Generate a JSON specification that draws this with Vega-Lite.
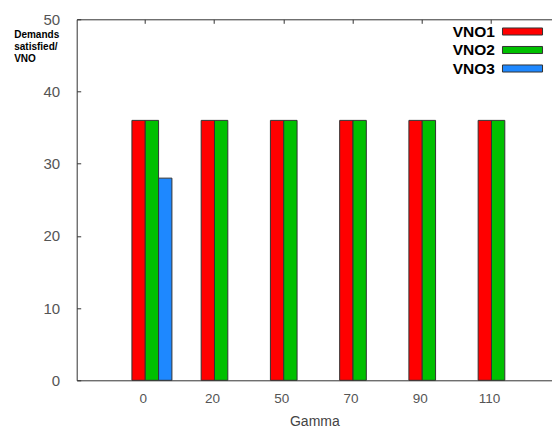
{
  "$schema": "https://vega.github.io/schema/vega-lite/v6.json",
  "autosize": "none",
  "width": 475.3,
  "height": 361,
  "padding": {"left": 76.7, "top": 19.3, "right": 0, "bottom": 50.7},
  "background": "white",
  "config": {
    "view": {"stroke": null},
    "font": "Liberation Sans"
  },
  "data": {
    "values": [
      {"gamma": "0", "vno": "VNO1", "demands": 36},
      {"gamma": "0", "vno": "VNO2", "demands": 36},
      {"gamma": "0", "vno": "VNO3", "demands": 28},
      {"gamma": "20", "vno": "VNO1", "demands": 36},
      {"gamma": "20", "vno": "VNO2", "demands": 36},
      {"gamma": "50", "vno": "VNO1", "demands": 36},
      {"gamma": "50", "vno": "VNO2", "demands": 36},
      {"gamma": "70", "vno": "VNO1", "demands": 36},
      {"gamma": "70", "vno": "VNO2", "demands": 36},
      {"gamma": "90", "vno": "VNO1", "demands": 36},
      {"gamma": "90", "vno": "VNO2", "demands": 36},
      {"gamma": "110", "vno": "VNO1", "demands": 36},
      {"gamma": "110", "vno": "VNO2", "demands": 36}
    ]
  },
  "resolve": {"axis": {"x": "independent"}},
  "layer": [
    {
      "mark": {"type": "bar", "stroke": "#333", "strokeWidth": 1},
      "encoding": {
        "x": {
          "field": "gamma", "type": "ordinal",
          "sort": ["0", "20", "50", "70", "90", "110"],
          "scale": {"paddingInner": 0.23, "paddingOuter": 0.547, "align": 0.553},
          "axis": {
            "title": "Gamma", "titleFontSize": 14, "titleFontWeight": "normal", "titleColor": "#444",
            "titlePadding": 10,
            "labelAngle": 0, "labelFontSize": 13.5, "labelColor": "#555", "labelPadding": 11, "labelOffset": -2,
            "ticks": false, "domainColor": "#333", "domainWidth": 1
          }
        },
        "xOffset": {
          "field": "vno", "type": "nominal",
          "scale": {"domain": ["pad", "VNO1", "VNO2", "VNO3"], "paddingInner": 0, "paddingOuter": 0}
        },
        "y": {
          "field": "demands", "type": "quantitative",
          "scale": {"domain": [0, 50], "nice": false},
          "axis": {
            "values": [0, 10, 20, 30, 40, 50],
            "grid": false,
            "title": ["Demands", "satisfied/", "VNO"],
            "titleAngle": 0, "titleAlign": "left", "titleBaseline": "top",
            "titleX": -63, "titleY": 10, "titleFontSize": 10, "titleFontWeight": "bold",
            "titleColor": "#000", "titleLineHeight": 12,
            "labelFontSize": 15, "labelColor": "#555", "labelPadding": 21,
            "tickSize": -4, "tickColor": "#333", "domainColor": "#333"
          }
        },
        "color": {
          "field": "vno", "type": "nominal",
          "scale": {"domain": ["VNO1", "VNO2", "VNO3"], "range": ["#ff0000", "#00c000", "#1e88ff"]},
          "legend": {
            "title": null, "orient": "none", "legendX": 437.8, "legendY": 4.2,
            "symbolType": "M-2.67,-0.47H2.67V0.47H-2.67Z", "symbolSize": 225,
            "symbolStrokeColor": "#333", "symbolStrokeWidth": 1, "symbolOpacity": 1,
            "labelAlign": "right", "labelOffset": -35.5, "labelFontSize": 15.5,
            "labelFontWeight": "bold", "labelColor": "#000", "rowPadding": 1.5
          }
        }
      }
    },
    {
      "mark": {"type": "rule", "opacity": 0},
      "encoding": {
        "x": {
          "field": "gamma", "type": "ordinal",
          "sort": ["0", "20", "50", "70", "90", "110"],
          "axis": {"orient": "top", "title": null, "labels": false, "tickSize": -4, "tickColor": "#333", "domainColor": "#333"}
        }
      }
    }
  ]
}
